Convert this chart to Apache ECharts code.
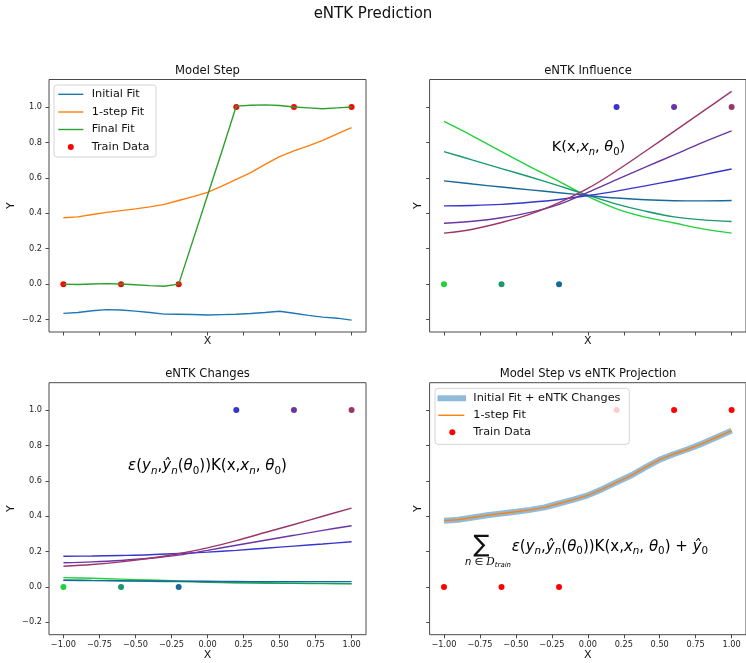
<!DOCTYPE html>
<html>
<head>
<meta charset="utf-8">
<script src="https://cdn.jsdelivr.net/npm/echarts@6/dist/echarts.min.js"></script>
<style>
  html, body { margin: 0; padding: 0; background: #fff; }
  #chart { width: 746px; height: 663px; }
</style>
</head>
<body>
<div id="chart"></div>
<script>
// ---- data -------------------------------------------------------------
const xFine = [-1.0, -0.9, -0.8, -0.7, -0.6, -0.5, -0.4, -0.3, -0.2, -0.1, 0.0,
               0.1, 0.2, 0.3, 0.4, 0.5, 0.6, 0.7, 0.8, 0.9, 1.0];
const initialFit = [-0.165, -0.160, -0.150, -0.144, -0.146, -0.152, -0.160, -0.169, -0.170, -0.171, -0.174,
                    -0.172, -0.170, -0.166, -0.160, -0.153, -0.164, -0.176, -0.186, -0.192, -0.203];
const oneStepFit = [0.375, 0.380, 0.393, 0.405, 0.415, 0.425, 0.436, 0.450, 0.472, 0.494, 0.518,
                    0.553, 0.592, 0.630, 0.676, 0.720, 0.752, 0.780, 0.812, 0.848, 0.884];
const finalFit = [0.000, -0.002, 0.001, 0.003, 0.001, -0.003, -0.008, -0.012, 0.000, 0.250, 0.500,
                  0.750, 1.005, 1.010, 1.012, 1.008, 1.000, 0.995, 0.990, 0.995, 1.000];
const projectedFit = [0.375, 0.380, 0.393, 0.405, 0.415, 0.425, 0.436, 0.450, 0.472, 0.494, 0.518,
                      0.553, 0.592, 0.630, 0.676, 0.720, 0.752, 0.780, 0.812, 0.848, 0.884];

const trainX = [-1.0, -0.6, -0.2, 0.2, 0.6, 1.0];
const trainY = [0, 0, 0, 1, 1, 1];

const xCoarse = [-1.0, -0.8, -0.6, -0.4, -0.2, 0.0, 0.2, 0.4, 0.6, 0.8, 1.0];
// kernel K(x, x_n) for each training point x_n
const kernelN1 = [0.918, 0.836, 0.748, 0.662, 0.580, 0.495, 0.425, 0.378, 0.345, 0.312, 0.288];
const kernelN2 = [0.748, 0.700, 0.652, 0.605, 0.555, 0.502, 0.452, 0.412, 0.380, 0.363, 0.354];
const kernelN3 = [0.583, 0.565, 0.548, 0.532, 0.516, 0.500, 0.486, 0.476, 0.471, 0.470, 0.472];
const kernelN4 = [0.442, 0.444, 0.450, 0.462, 0.478, 0.500, 0.525, 0.555, 0.585, 0.617, 0.650];
const kernelN5 = [0.344, 0.355, 0.375, 0.405, 0.450, 0.518, 0.590, 0.660, 0.730, 0.800, 0.865];
const kernelN6 = [0.288, 0.310, 0.348, 0.395, 0.460, 0.540, 0.640, 0.750, 0.862, 0.975, 1.088];
// error-weighted kernel contributions
const changeN1 = [0.053, 0.049, 0.044, 0.039, 0.034, 0.029, 0.025, 0.022, 0.020, 0.019, 0.018];
const changeN2 = [0.040, 0.037, 0.035, 0.032, 0.030, 0.027, 0.024, 0.022, 0.021, 0.020, 0.019];
const changeN3 = [0.037, 0.036, 0.035, 0.034, 0.033, 0.032, 0.031, 0.030, 0.030, 0.030, 0.030];
const changeN4 = [0.174, 0.175, 0.178, 0.182, 0.189, 0.197, 0.207, 0.219, 0.231, 0.243, 0.256];
const changeN5 = [0.137, 0.142, 0.150, 0.162, 0.180, 0.207, 0.236, 0.264, 0.292, 0.320, 0.346];
const changeN6 = [0.117, 0.127, 0.142, 0.162, 0.188, 0.221, 0.262, 0.308, 0.353, 0.400, 0.446];

const xTicks = [-1.0, -0.75, -0.5, -0.25, 0.0, 0.25, 0.5, 0.75, 1.0];
const yTicks = [-0.2, 0.0, 0.2, 0.4, 0.6, 0.8, 1.0];

const kernels = [kernelN1, kernelN2, kernelN3, kernelN4, kernelN5, kernelN6];
const changes = [changeN1, changeN2, changeN3, changeN4, changeN5, changeN6];
const pointColors = ['#1fd13b', '#1a9970', '#17689b', '#3636cc', '#6a35a5', '#9c3668'];

// ---- styling helpers --------------------------------------------------
const FONT = 'DejaVu Sans';
const SPINE = '#4a4a4a';
const pairs = (xs, ys) => xs.map((x, i) => [x, ys[i]]);
const minus = s => s.replace('-', '\u2212');

const grids = [
  { left: 49, top: 79.5, width: 317, height: 252.5 },
  { left: 429.6, top: 79.5, width: 317, height: 252.5 },
  { left: 49, top: 382.7, width: 317, height: 252 },
  { left: 429.6, top: 382.7, width: 317, height: 252 }
].map(g => Object.assign({ show: true, borderColor: SPINE, borderWidth: 1, backgroundColor: 'transparent' }, g));

function xAxisFor(i) {
  const bottom = i >= 2;
  return {
    type: 'value', gridIndex: i, min: -1.1, max: 1.1,
    name: 'X', nameLocation: 'middle', nameGap: bottom ? 15 : 4,
    nameTextStyle: { fontFamily: FONT, fontSize: 11, color: '#111', verticalAlign: 'top' },
    splitLine: { show: false },
    axisLine: { show: false, onZero: false },
    axisTick: { show: true, inside: false, length: 3.5, lineStyle: { color: SPINE }, customValues: xTicks },
    axisLabel: {
      show: bottom, customValues: xTicks, margin: 6,
      fontFamily: FONT, fontSize: 8.2, color: '#222',
      formatter: v => minus(v.toFixed(2))
    }
  };
}
function yAxisFor(i) {
  const left = i % 2 === 0;
  return {
    type: 'value', gridIndex: i, min: -0.27, max: 1.155,
    splitLine: { show: false },
    axisLine: { show: false, onZero: false },
    axisTick: { show: true, inside: false, length: 3.5, lineStyle: { color: SPINE }, customValues: yTicks },
    axisLabel: {
      show: left, customValues: yTicks, margin: 7,
      fontFamily: FONT, fontSize: 8.2, color: '#222',
      formatter: v => minus(v.toFixed(1))
    }
  };
}

function lineSeries(i, xs, ys, color, width, extra) {
  return Object.assign({
    type: 'line', xAxisIndex: i, yAxisIndex: i, data: pairs(xs, ys),
    symbol: 'none', showSymbol: false, silent: true,
    lineStyle: { color: color, width: width }
  }, extra || {});
}
function dotSeries(i, xs, ys, color) {
  return {
    type: 'scatter', xAxisIndex: i, yAxisIndex: i, data: pairs(xs, ys),
    symbol: 'circle', symbolSize: 6, silent: true,
    itemStyle: { color: color, opacity: 1 }
  };
}

const series = [];
// Model Step
series.push(lineSeries(0, xFine, initialFit, '#1f77b4', 1.4));
series.push(lineSeries(0, xFine, oneStepFit, '#ff7f0e', 1.4));
series.push(lineSeries(0, xFine, finalFit, '#2ca02c', 1.4));
series.push(dotSeries(0, trainX, trainY, '#ff0000'));
// eNTK Influence and eNTK Changes, one curve per training point
kernels.forEach((k, n) => {
  series.push(lineSeries(1, xCoarse, k, pointColors[n], 1.4, { smooth: 0.35 }));
  series.push(dotSeries(1, [trainX[n]], [trainY[n]], pointColors[n]));
});
changes.forEach((c, n) => {
  series.push(lineSeries(2, xCoarse, c, pointColors[n], 1.4, { smooth: 0.35 }));
  series.push(dotSeries(2, [trainX[n]], [trainY[n]], pointColors[n]));
});
// Model Step vs eNTK Projection
series.push(lineSeries(3, xFine, projectedFit, 'rgba(31,119,180,0.5)', 6));
series.push(lineSeries(3, xFine, oneStepFit, '#ff7f0e', 1.4));
series.push(dotSeries(3, trainX, trainY, '#ff0000'));

// ---- text and legends -------------------------------------------------
function label(x, y, text, size, opts) {
  return Object.assign({
    type: 'text', x: x, y: y, z: 100, silent: true,
    style: Object.assign({ text: text, fontFamily: FONT, fontSize: size, fill: '#111',
                           align: 'center', verticalAlign: 'middle' }, (opts && opts.style) || {})
  }, opts && opts.rotation !== undefined ? { rotation: opts.rotation } : {});
}

function richStyles(ms) {
  return {
    r: { fontFamily: FONT, fontSize: ms, lineHeight: 20, color: '#111' },
    i: { fontFamily: FONT, fontSize: ms, lineHeight: 20, fontStyle: 'italic', color: '#111' },
    s: { fontFamily: FONT, fontSize: ms * 0.69, lineHeight: 20, verticalAlign: 'bottom', color: '#111' },
    si: { fontFamily: FONT, fontSize: ms * 0.69, lineHeight: 20, verticalAlign: 'bottom', fontStyle: 'italic', color: '#111' }
  };
}
function mathText(x, y, parts, align, ms) {
  return {
    type: 'text', x: x, y: y, z: 100, silent: true,
    style: {
      text: parts.map(p => '{' + p[1] + '|' + p[0] + '}').join(''),
      rich: richStyles(ms), align: align, verticalAlign: 'middle',
      fontFamily: FONT, fontSize: ms
    }
  };
}
const kernelExpr = [['K(x,', 'r'], ['x', 'i'], ['n', 'si'], [', ', 'r'], ['\u03b8', 'i'], ['0', 's'], [')', 'r']];
const errorExpr = [['\u03b5', 'i'], ['(', 'r'], ['y', 'i'], ['n', 'si'], [',', 'r'], ['\u0177', 'i'], ['n', 'si'],
                   ['(', 'r'], ['\u03b8', 'i'], ['0', 's'], ['))', 'r']];

function legendBox(x, y, w, h) {
  return {
    type: 'rect', z: 100, silent: true,
    shape: { x: x, y: y, width: w, height: h, r: 3 },
    style: { fill: 'rgba(255,255,255,0.8)', stroke: '#d4d4d4', lineWidth: 1 }
  };
}
function legendLine(x1, x2, y, color, width) {
  return { type: 'line', z: 101, silent: true, shape: { x1: x1, y1: y, x2: x2, y2: y },
           style: { stroke: color, lineWidth: width } };
}
function legendDot(cx, cy, color) {
  return { type: 'circle', z: 101, silent: true, shape: { cx: cx, cy: cy, r: 3 }, style: { fill: color } };
}
function legendText(x, y, text) {
  return label(x, y, text, 11.3, { style: { align: 'left' } });
}

const graphic = [
  label(373, 14, 'eNTK Prediction', 15),
  label(207.5, 70.7, 'Model Step', 11.6),
  label(588, 70.7, 'eNTK Influence', 11.6),
  label(207.5, 374, 'eNTK Changes', 11.6),
  label(588, 374, 'Model Step vs eNTK Projection', 11.6),
  label(11.5, 205.7, 'Y', 11, { rotation: Math.PI / 2 }),
  label(418.3, 205.7, 'Y', 11, { rotation: Math.PI / 2 }),
  label(11.5, 508.7, 'Y', 11, { rotation: Math.PI / 2 }),
  label(418.3, 508.7, 'Y', 11, { rotation: Math.PI / 2 }),

  // Model Step legend
  legendBox(54, 85, 102, 72),
  legendLine(58.3, 83.3, 94.3, '#1f77b4', 1.4), legendText(91.7, 94.3, 'Initial Fit'),
  legendLine(58.3, 83.3, 112, '#ff7f0e', 1.4), legendText(91.7, 112, '1-step Fit'),
  legendLine(58.3, 83.3, 129.5, '#2ca02c', 1.4), legendText(91.7, 129.5, 'Final Fit'),
  legendDot(70.8, 147, '#ff0000'), legendText(91.7, 147, 'Train Data'),

  // Projection legend
  legendBox(435, 388.3, 194.3, 56),
  legendLine(437.5, 466, 398.3, 'rgba(31,119,180,0.5)', 6), legendText(473.3, 398.3, 'Initial Fit + eNTK Changes'),
  legendLine(438.3, 464.3, 415.3, '#ff7f0e', 1.4), legendText(473.3, 415.3, '1-step Fit'),
  legendDot(452.3, 432.3, '#ff0000'), legendText(473.3, 432.3, 'Train Data'),

  // formulas
  mathText(588.5, 147, kernelExpr, 'center', 14.5),
  mathText(207.5, 466, errorExpr.concat(kernelExpr), 'center', 15),
  label(481.7, 546, '\u2211', 24),
  {
    type: 'text', x: 488, y: 562, z: 100, silent: true,
    style: {
      text: '{i|n}{r| \u2208 }{c|D}{si|train}',
      align: 'center', verticalAlign: 'middle', fontFamily: FONT, fontSize: 10,
      rich: {
        i: { fontFamily: FONT, fontSize: 10, fontStyle: 'italic', lineHeight: 13, color: '#111' },
        r: { fontFamily: FONT, fontSize: 10, lineHeight: 13, color: '#111' },
        c: { fontFamily: 'DejaVu Serif', fontSize: 10.5, fontStyle: 'italic', lineHeight: 13, color: '#111' },
        si: { fontFamily: FONT, fontSize: 7, fontStyle: 'italic', lineHeight: 13, verticalAlign: 'bottom', color: '#111' }
      }
    }
  },
  mathText(511.7, 546.7, errorExpr.concat(kernelExpr, [[' + ', 'r'], ['\u0177', 'i'], ['0', 's']]), 'left', 15)
];

const chart = echarts.init(document.getElementById('chart'), null, { renderer: 'canvas' });
chart.setOption({
  animation: false,
  backgroundColor: '#ffffff',
  grid: grids,
  xAxis: [0, 1, 2, 3].map(xAxisFor),
  yAxis: [0, 1, 2, 3].map(yAxisFor),
  series: series,
  graphic: graphic
});
</script>
</body>
</html>
